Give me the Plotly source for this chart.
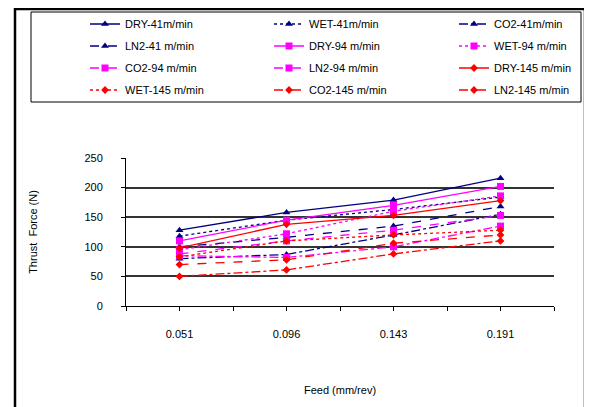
import plotly.graph_objects as go

feed_labels = ["0.051", "0.096", "0.143", "0.191"]

dry_41 = [128, 158, 179, 216]
wet_41 = [118, 145, 163, 184]
co2_41 = [80, 87, 120, 155]
ln2_41 = [100, 116, 135, 168]
dry_94 = [110, 145, 170, 202]
wet_94 = [95, 122, 160, 186]
co2_94 = [85, 82, 100, 135]
ln2_94 = [88, 110, 128, 153]
dry_145 = [98, 138, 153, 178]
wet_145 = [83, 110, 120, 128]
co2_145 = [50, 61, 88, 110]
ln2_145 = [70, 78, 106, 120]

series = [
    ("DRY-41m/min", dry_41, "#000080", "solid", "triangle-up"),
    ("WET-41m/min", wet_41, "#000080", "dot", "triangle-up"),
    ("CO2-41m/min", co2_41, "#000080", "dashdot", "triangle-up"),
    ("LN2-41 m/min", ln2_41, "#000080", "dash", "triangle-up"),
    ("DRY-94 m/min", dry_94, "#FF00FF", "solid", "square"),
    ("WET-94 m/min", wet_94, "#FF00FF", "dot", "square"),
    ("CO2-94 m/min", co2_94, "#FF00FF", "dashdot", "square"),
    ("LN2-94 m/min", ln2_94, "#FF00FF", "dash", "square"),
    ("DRY-145 m/min", dry_145, "#FF0000", "solid", "diamond"),
    ("WET-145 m/min", wet_145, "#FF0000", "dot", "diamond"),
    ("CO2-145 m/min", co2_145, "#FF0000", "dashdot", "diamond"),
    ("LN2-145 m/min", ln2_145, "#FF0000", "dash", "diamond"),
]

xs = list(range(len(feed_labels)))

# page body has an 8px margin; work in screenshot pixel coordinates
OFF = 8
W, H = 584, 399
L, R, T, B = 126 - OFF, 38, 158 - OFF, 101
pw, ph = W - L - R, H - T - B

def px_x(p):
    return (p - OFF - L) / pw

def px_y(p):
    return (H - B - (p - OFF)) / ph

font = dict(family="Liberation Sans, Arial, sans-serif", size=11, color="black")

col_x = [85, 269, 454]
row_y = [24, 46, 68, 90]

fig = go.Figure()
legends = {}
for i, (name, vals, color, dash, sym) in enumerate(series):
    lid = "legend" if i == 0 else f"legend{i + 1}"
    fig.add_trace(go.Scatter(
        x=xs, y=vals, name=name, mode="lines+markers",
        line=dict(color=color, width=1.3, dash=dash),
        marker=dict(symbol=sym, size=7 if sym != "diamond" else 6, color=color),
        legend=lid,
    ))
    legends[lid] = dict(
        orientation="h", x=px_x(col_x[i % 3]), y=px_y(row_y[i // 3]),
        xanchor="left", yanchor="middle",
        bgcolor="rgba(0,0,0,0)", borderwidth=0, font=font,
    )

fig.update_layout(
    width=W, height=H,
    margin=dict(l=L, r=R, t=T, b=B, autoexpand=False),
    paper_bgcolor="white", plot_bgcolor="white",
    font=font,
    showlegend=True,
    **legends,
    xaxis=dict(
        range=[-0.5, 3.5], tickvals=xs, ticktext=feed_labels,
        showgrid=False, zeroline=False,
        showline=True, linecolor="black", linewidth=1,
        ticks="outside", ticklen=4, tickcolor="black",
        minor=dict(tickvals=[-0.5, 0.5, 1.5, 2.5, 3.5], ticks="outside", ticklen=4, tickcolor="black"),
        ticklabelstandoff=14,
        title=dict(text="Feed (mm/rev)", font=font, standoff=47),
    ),
    yaxis=dict(
        range=[0, 250], dtick=50, tick0=0,
        showgrid=True, gridcolor="#333333", gridwidth=1.5,
        zeroline=False,
        showline=True, linecolor="black", linewidth=1,
        ticks="outside", ticklen=4, tickcolor="black",
        ticklabelstandoff=16,
        title=dict(text="Thrust  Force (N)", font=font, standoff=44),
    ),
    shapes=[
        dict(type="rect", xref="paper", yref="paper",
             x0=px_x(15), x1=px_x(585), y0=px_y(420), y1=px_y(9),
             line=dict(color="black", width=2.5), fillcolor="rgba(0,0,0,0)", layer="below"),
        dict(type="rect", xref="paper", yref="paper",
             x0=px_x(31), x1=px_x(581), y0=px_y(102), y1=px_y(12),
             line=dict(color="black", width=1), fillcolor="rgba(0,0,0,0)", layer="below"),
    ],
)

fig.write_html("out.html")
